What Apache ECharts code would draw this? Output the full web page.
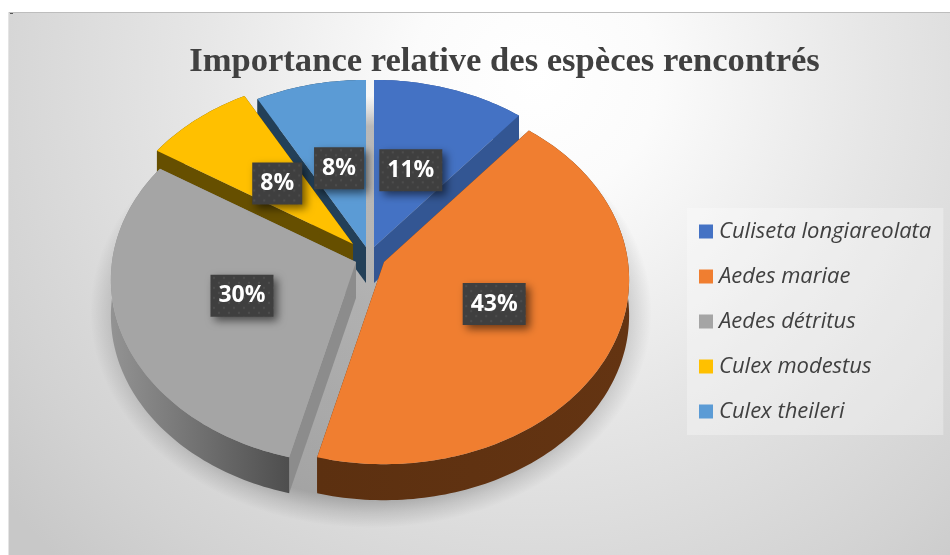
<!DOCTYPE html>
<html><head><meta charset="utf-8">
<style>html,body{margin:0;padding:0;background:#fff}#c{width:950px;height:555px}</style>
<script src="https://cdn.jsdelivr.net/npm/echarts@6/dist/echarts.min.js"></script>
</head><body><div id="c"></div>
<script>
const categories = ['Culiseta longiareolata','Aedes mariae','Aedes détritus','Culex modestus','Culex theileri'];
const values = [11,43,30,8,8];
const titleText = 'Importance relative des espèces rencontrés';

const faceColors = ['#4472C4','#F07E30','#A5A5A5','#FFC000','#5B9BD5'];
const edgeColors = ['#335693','#5f3112','#8c8c8c','#664F00','#234058'];
const arcColors = ['#335693',
  {type:'linear',x:0,y:0,x2:1,y2:0,colorStops:[{offset:0,color:'#5c3010'},{offset:1,color:'#643412'}]},
  {type:'linear',x:0,y:0,x2:1,y2:0,colorStops:[{offset:0,color:'#939393'},{offset:1,color:'#4e4e4e'}]},
  '#664F00','#234058'];
const seriesZ = [2,5,4,3,2];
// pie geometry (layout only)
const CX=370, CY=255, RX=244, RY=183, PERSP=0.095, DEPTH=36, LABEL_F=0.485;
const explode = [[4,-8],[14,7],[-14,7],[-17,-11],[-4,-8]];

const total = values.reduce((a,b)=>a+b,0);
function startAngle(i){let s=0;for(let k=0;k<i;k++)s+=values[k];return s/total*2*Math.PI;}
function project(i,a,f){
  const u=Math.sin(a),v=Math.cos(a),s=1/(1+PERSP*v);
  return [CX+explode[i][0]+RX*s*u*f, CY+explode[i][1]-RY*s*v*f];
}
function down(p){return [p[0],p[1]+DEPTH];}

const dotTile=(function(){
  const c=document.createElement('canvas');c.width=10;c.height=10;
  const g=c.getContext('2d');g.fillStyle='#3f3f3f';g.fillRect(0,0,10,10);
  g.fillStyle='#4d4d4d';
  [[2,2],[7,7]].forEach(p=>{g.beginPath();g.arc(p[0],p[1],1.2,0,7);g.fill();});
  return c;
})();

function sliceItem(i){
  return function(params,api){
    const a0=startAngle(i), a1=a0+api.value(0)/total*2*Math.PI;
    const apex=project(i,0,0), arc=[];
    const n=Math.max(8,Math.round((a1-a0)/0.02));
    for(let k=0;k<=n;k++) arc.push(project(i,a0+(a1-a0)*k/n,1));
    const first=arc[0], last=arc[arc.length-1];
    const band=arc.concat(arc.slice().reverse().map(down));
    const edge=(p)=>({type:'polygon',shape:{points:[apex,p,down(p),down(apex)]},style:{fill:edgeColors[i]}});
    return {type:'group',children:[
      edge(first),edge(last),
      {type:'polygon',shape:{points:band},style:{fill:arcColors[i]}},
      {type:'polygon',shape:{points:[apex].concat(arc)},style:{fill:faceColors[i]}}
    ]};
  };
}
function shadowItem(){
  return {type:'circle',x:371,y:312,scaleX:1.3,shape:{r:216},
    style:{fill:{type:'radial',x:.5,y:.5,r:.5,colorStops:[
      {offset:0,color:'rgba(0,0,0,0.25)'},{offset:.86,color:'rgba(0,0,0,0.25)'},{offset:.93,color:'rgba(0,0,0,0.11)'},{offset:1,color:'rgba(0,0,0,0)'}]}}};
}
function labelItem(params,api){
  const i=params.dataIndex;
  const mid=startAngle(i)+api.value(0)/total*Math.PI;
  const c=project(i,mid,LABEL_F);
  const txt=api.value(0)+'%';
  const w=txt.length>2?63:50,h=42;
  return {type:'group',x:c[0],y:c[1],children:[
    {type:'rect',shape:{x:-w/2,y:-h/2,width:w,height:h},
     style:{fill:{image:dotTile,repeat:'repeat'},shadowBlur:8,shadowOffsetX:4,shadowOffsetY:4,shadowColor:'rgba(0,0,0,0.55)'}},
    {type:'text',style:{text:txt,x:0,y:0,align:'center',verticalAlign:'middle',fill:'#fff',
      font:'bold 23px "Open Sans"'}}
  ]};
}
const series=[{type:'custom',name:'shadow',coordinateSystem:'none',z:1,silent:true,data:[[0]],renderItem:shadowItem}];
categories.forEach((name,i)=>series.push({
  type:'custom',name,coordinateSystem:'none',z:seriesZ[i],silent:true,
  itemStyle:{color:faceColors[i]},data:[[values[i]]],renderItem:sliceItem(i)
}));
series.push({type:'custom',name:'labels',coordinateSystem:'none',z:10,silent:true,
  data:values.map(v=>[v]),renderItem:labelItem});

const chart=echarts.init(document.getElementById('c'),null,{renderer:'canvas'});
chart.setOption({
  animation:false,
  graphic:[
    {type:'rect',z:-10,silent:true,shape:{x:8,y:12,width:942,height:543},
     style:{fill:{type:'radial',x:.56,y:.12,r:1.25,colorStops:[
       {offset:0,color:'#ffffff'},{offset:.18,color:'#fbfbfb'},{offset:.5,color:'#e6e6e6'},{offset:.85,color:'#d2d2d2'},{offset:1,color:'#c8c8c8'}]}}},
    {type:'rect',z:-9,silent:true,shape:{x:8,y:12,width:942,height:1},style:{fill:'#bdbdbd'}},
    {type:'rect',z:-9,silent:true,shape:{x:8,y:12,width:1,height:543},style:{fill:'#e4e4e4'}},
    {type:'rect',z:-9,silent:true,shape:{x:10,y:13,width:3,height:1},style:{fill:'#555'}}
  ],
  title:{text:titleText,left:499.5,top:40,textAlign:'center',
    textStyle:{fontFamily:'"Liberation Serif"',fontWeight:'bold',fontSize:34.6,color:'#404040'}},
  legend:{
    orient:'vertical',left:687,top:208,data:categories,icon:'rect',itemWidth:14,itemHeight:14,itemGap:20,
    padding:[11,12,11,12],backgroundColor:'rgba(255,255,255,0.3)',selectedMode:false,
    textStyle:{fontFamily:'"Open Sans"',fontStyle:'italic',fontSize:22,color:'#404040',lineHeight:25,padding:[0,0,0,1]}
  },
  series
});
</script></body></html>
